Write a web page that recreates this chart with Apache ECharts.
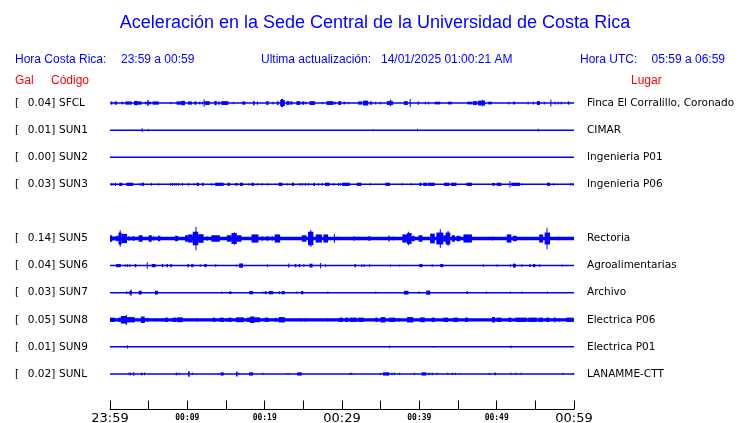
<!DOCTYPE html>
<html>
<head>
<meta charset="utf-8">
<script src="https://cdn.jsdelivr.net/npm/echarts@6/dist/echarts.min.js"></script>
<style>html,body{margin:0;padding:0;background:#fff;}#c{width:740px;height:423px;}</style>
</head>
<body>
<div id="c"></div>
<script>
// ---------- data ----------
const stations = ['SFCL','SUN1','SUN2','SUN3','','SUN5','SUN6','SUN7','SUN8','SUN9','SUNL'];
const maxGal   = ['0.04','0.01','0.00','0.03','','0.14','0.04','0.03','0.05','0.01','0.02'];
const places   = ['Finca El Corralillo, Coronado','CIMAR','Ingenieria P01','Ingenieria P06','','Rectoria','Agroalimentarias','Archivo','Electrica P06','Electrica P01','LANAMME-CTT'];
const tickLabels = ['23:59','','00:09','','00:19','','00:29','','00:39','','00:49','','00:59'];
// background noise level of each trace (fraction of trace spacing)
const noiseLevel = [0.03,0.025,0.025,0.025,null,0.065,0.025,0.025,0.06,0.025,0.025];
// bursts: [start minute, end minute, half amplitude (fraction of trace spacing)]
const sfclBursts = [[0.1,0.3,0.06],[0.6,0.9,0.06],[1.5,1.7,0.05],[2.0,2.8,0.06],[3.1,3.6,0.08],[3.6,4.1,0.06],[4.5,4.7,0.05],[4.8,5.0,0.1],[5.0,5.3,0.05],[5.5,6.3,0.06],[7.8,7.9,0.04],[8.6,9.2,0.06],[9.2,9.7,0.08],[10.1,10.6,0.06],[10.9,11.2,0.06],[11.5,11.7,0.05],[11.9,12.0,0.05],[12.3,12.9,0.07],[12.1,12.25,0.13],[13.5,13.8,0.08],[14.0,14.2,0.06],[14.4,15.3,0.07],[15.9,16.0,0.04],[17.1,17.5,0.06],[18.5,18.7,0.08],[19.0,19.1,0.06],[20.2,20.5,0.07],[21.0,21.1,0.05],[21.6,21.8,0.07],[22.0,22.6,0.11],[22.1,22.4,0.15],[22.8,23.2,0.07],[23.3,23.6,0.06],[24.1,24.6,0.07],[24.8,25.1,0.06],[25.2,25.4,0.05],[25.8,26.5,0.07],[27.4,27.5,0.04],[28.0,28.9,0.07],[29.0,29.2,0.05],[29.5,29.9,0.07],[30.2,30.4,0.05],[30.8,30.9,0.04],[32.1,32.6,0.06],[32.7,33.4,0.09],[33.6,33.9,0.06],[34.3,34.4,0.05],[34.9,35.0,0.05],[35.8,36.6,0.07],[36.2,36.35,0.12],[38.0,38.5,0.07],[38.75,38.85,0.15],[39.8,39.9,0.07],[40.7,40.8,0.05],[41.1,41.2,0.05],[42.0,42.7,0.05],[43.7,44.2,0.05],[46.2,46.8,0.05],[46.9,47.5,0.07],[47.6,48.5,0.09],[48.1,48.25,0.12],[48.9,49.4,0.05],[51.5,51.6,0.05],[52.1,52.4,0.05],[54.0,54.1,0.05],[54.7,54.8,0.05],[55.2,55.6,0.07],[56.1,56.2,0.05],[56.95,57.05,0.13],[57.5,57.6,0.05],[57.9,58.0,0.05],[58.3,58.4,0.05],[59.2,59.4,0.06]];
const sun1Bursts = [[4.1,4.2,0.07],[4.9,5.0,0.04],[34.0,34.1,0.03],[39.7,39.8,0.05],[55.3,55.4,0.05]];
const sun2Bursts = [];
const sun3Bursts = [[0.1,0.2,0.05],[0.35,0.45,0.05],[0.65,0.8,0.06],[1.2,1.6,0.06],[2.1,3.0,0.06],[3.8,3.9,0.05],[4.1,4.4,0.06],[5.3,5.4,0.05],[6.2,6.3,0.04],[7.8,7.9,0.05],[8.0,8.1,0.05],[8.3,8.4,0.05],[8.5,8.6,0.05],[8.8,8.9,0.05],[9.3,9.4,0.05],[10.1,10.2,0.05],[10.8,10.9,0.04],[11.2,11.5,0.06],[11.9,12.1,0.06],[13.1,13.2,0.04],[13.6,14.7,0.06],[15.2,15.5,0.06],[16.2,16.5,0.05],[16.8,17.2,0.06],[17.9,18.0,0.04],[18.3,18.6,0.06],[19.0,19.1,0.04],[19.6,19.7,0.04],[20.3,20.4,0.04],[21.8,22.3,0.06],[22.9,23.0,0.04],[23.5,23.8,0.06],[24.5,24.6,0.05],[24.8,24.9,0.05],[25.2,25.3,0.05],[25.6,25.7,0.05],[26.3,26.5,0.06],[26.9,27.0,0.05],[27.4,27.5,0.05],[27.8,28.4,0.06],[28.9,29.0,0.05],[29.5,29.6,0.05],[29.7,29.8,0.05],[30.0,31.0,0.06],[31.9,32.5,0.06],[33.6,33.7,0.04],[35.6,36.2,0.06],[37.7,37.8,0.04],[38.9,39.0,0.04],[40.0,40.3,0.06],[40.5,41.0,0.06],[41.1,42.0,0.06],[43.2,43.9,0.06],[44.1,44.8,0.06],[46.1,46.8,0.06],[49.4,49.8,0.05],[50.0,50.6,0.06],[51.65,51.75,0.12],[51.9,53.0,0.06],[53.2,53.3,0.04],[56.5,56.9,0.06],[57.3,57.4,0.04],[59.5,59.6,0.05],[59.8,59.9,0.05]];
const sun5Bursts = [[0.0,0.3,0.12],[0.4,0.8,0.07],[0.8,1.1,0.1],[1.1,1.5,0.22],[1.25,1.35,0.3],[1.5,2.2,0.17],[2.4,2.6,0.08],[2.9,3.2,0.08],[3.7,4.2,0.12],[5.0,5.4,0.12],[5.6,5.7,0.08],[6.2,6.5,0.1],[8.4,8.8,0.1],[9.7,10.1,0.12],[10.1,10.7,0.15],[10.7,11.4,0.25],[11.05,11.15,0.43],[11.4,12.1,0.16],[12.5,12.6,0.08],[13.1,14.2,0.12],[15.1,15.7,0.12],[15.7,16.4,0.2],[16.05,16.15,0.23],[16.4,17.0,0.12],[18.3,19.2,0.15],[19.6,19.8,0.08],[20.2,20.5,0.08],[20.9,21.1,0.08],[21.3,22.0,0.15],[24.8,25.4,0.12],[25.6,26.3,0.25],[25.9,26.0,0.31],[26.6,27.4,0.15],[27.6,28.2,0.15],[28.95,29.05,0.17],[29.4,29.5,0.06],[31.5,31.7,0.08],[32.1,32.2,0.06],[33.0,33.1,0.06],[33.4,33.7,0.08],[36.0,36.2,0.1],[36.6,36.7,0.07],[37.8,38.4,0.15],[38.4,39.0,0.2],[38.55,38.65,0.25],[39.0,39.4,0.1],[39.9,40.4,0.12],[41.4,42.0,0.18],[42.2,43.1,0.22],[42.65,42.75,0.34],[43.1,43.5,0.12],[43.4,44.0,0.22],[43.65,43.75,0.28],[44.2,44.6,0.12],[44.8,45.3,0.1],[45.7,46.8,0.15],[49.4,49.5,0.07],[51.3,51.9,0.15],[52.1,52.6,0.1],[55.5,56.0,0.15],[56.2,56.9,0.22],[56.45,56.55,0.4],[58.0,58.1,0.06]];
const sun6Bursts = [[0.8,1.4,0.06],[1.9,2.0,0.05],[2.2,2.3,0.05],[2.5,2.6,0.05],[3.2,3.4,0.06],[4.75,4.85,0.12],[5.4,5.9,0.06],[6.7,6.9,0.06],[7.3,7.5,0.06],[7.8,8.0,0.06],[10.0,10.2,0.06],[10.5,10.8,0.06],[11.6,11.7,0.05],[12.2,12.5,0.06],[13.6,13.7,0.05],[16.3,16.4,0.04],[16.7,17.2,0.08],[20.3,20.4,0.05],[23.05,23.15,0.08],[23.9,24.1,0.06],[24.4,24.6,0.06],[25.0,25.1,0.05],[25.8,26.2,0.07],[27.15,27.25,0.1],[27.8,27.9,0.05],[31.6,31.8,0.06],[32.5,32.6,0.05],[32.8,32.9,0.05],[33.5,33.6,0.05],[36.2,36.3,0.04],[37.4,37.5,0.03],[40.0,40.4,0.06],[41.6,41.7,0.05],[42.7,43.1,0.06],[48.2,48.3,0.05],[50.0,50.1,0.04],[51.7,51.8,0.05],[52.1,52.5,0.06],[52.2,52.3,0.09],[53.2,53.3,0.05],[54.2,54.4,0.05],[54.7,55.0,0.06],[55.5,55.6,0.05],[58.4,58.5,0.03]];
const sun7Bursts = [[2.1,2.2,0.05],[2.5,2.8,0.07],[2.65,2.75,0.12],[3.7,4.1,0.07],[5.8,6.2,0.07],[14.4,14.5,0.04],[15.4,15.7,0.05],[18.0,18.5,0.06],[19.7,19.8,0.04],[20.0,20.3,0.05],[20.5,21.1,0.06],[21.8,22.0,0.05],[22.2,22.6,0.06],[24.1,24.2,0.04],[24.7,25.0,0.06],[28.1,28.2,0.04],[34.3,34.4,0.04],[38.0,38.6,0.07],[39.9,40.0,0.05],[40.9,41.4,0.08],[46.1,46.3,0.05],[48.6,48.7,0.04],[51.7,51.8,0.04],[53.2,53.3,0.04],[56.5,56.6,0.04]];
const sun8Bursts = [[0.0,0.65,0.08],[1.1,1.4,0.08],[1.4,2.2,0.14],[2.05,2.15,0.19],[2.2,3.2,0.1],[4.0,4.5,0.12],[4.7,5.0,0.07],[5.9,6.0,0.07],[6.7,6.8,0.07],[7.1,7.5,0.08],[8.1,8.6,0.08],[8.7,9.4,0.09],[11.2,11.3,0.07],[13.3,13.6,0.08],[14.2,14.7,0.08],[15.0,15.2,0.07],[15.3,15.7,0.08],[16.3,17.3,0.09],[17.7,18.1,0.08],[18.1,18.7,0.12],[18.7,19.4,0.09],[20.0,20.5,0.08],[21.3,21.6,0.07],[21.8,22.6,0.1],[24.6,24.7,0.07],[25.2,25.3,0.07],[28.1,28.2,0.07],[29.5,29.6,0.07],[29.7,30.1,0.08],[30.4,30.8,0.08],[31.0,31.9,0.08],[32.1,32.8,0.08],[34.3,34.6,0.08],[35.0,35.6,0.1],[36.1,36.9,0.08],[37.3,37.4,0.07],[38.4,39.2,0.1],[40.1,40.7,0.09],[41.6,42.0,0.08],[43.1,43.7,0.08],[44.4,45.0,0.08],[45.9,46.3,0.08],[49.4,49.8,0.1],[50.0,50.6,0.08],[51.5,51.9,0.08],[52.4,53.9,0.08],[54.1,55.2,0.08],[55.4,56.0,0.08],[56.4,56.8,0.08],[57.45,57.55,0.1],[58.0,58.1,0.07],[59.0,59.9,0.08]];
const sun9Bursts = [[1.8,1.9,0.03],[2.2,2.3,0.06],[36.1,36.2,0.05],[41.8,41.9,0.03],[51.8,51.9,0.05]];
const sunlBursts = [[2.4,2.5,0.05],[2.6,2.7,0.05],[3.0,3.1,0.07],[4.0,4.2,0.05],[4.4,4.5,0.05],[8.5,8.7,0.05],[8.9,9.0,0.04],[10.1,10.3,0.1],[10.6,10.7,0.04],[13.9,14.0,0.03],[14.3,14.7,0.06],[16.3,16.5,0.09],[16.6,16.7,0.04],[18.0,18.5,0.06],[19.7,19.8,0.04],[22.8,22.9,0.03],[23.1,23.2,0.03],[24.2,24.8,0.06],[31.0,31.1,0.04],[31.2,31.3,0.04],[34.9,35.0,0.04],[35.3,36.1,0.06],[36.4,36.5,0.05],[36.7,36.8,0.05],[37.4,37.5,0.04],[39.3,39.4,0.04],[40.3,40.9,0.06],[41.2,41.3,0.05],[41.6,41.7,0.05],[42.2,42.3,0.04],[43.6,43.7,0.04],[44.2,44.3,0.04],[44.6,44.7,0.04],[45.2,45.3,0.03],[49.0,49.1,0.04],[49.7,49.9,0.05],[51.8,51.9,0.04],[52.4,52.5,0.04],[53.1,53.2,0.04],[58.5,58.6,0.04],[59.9,60.0,0.04]];
const burstsByRow = [sfclBursts,sun1Bursts,sun2Bursts,sun3Bursts,null,sun5Bursts,sun6Bursts,sun7Bursts,sun8Bursts,sun9Bursts,sunlBursts];
const durationMin = 60;

// ---------- build ----------
const traceData = [];
burstsByRow.forEach(function (list, row) {
  if (!list) return;
  traceData.push([0, durationMin, noiseLevel[row], row]);
  list.forEach(function (b) { traceData.push([b[0], b[1], b[2], row]); });
});

const BLUE = '#0000ff';
const LBL = {fontFamily: 'DejaVu Sans', fontSize: 10.5, color: '#000'};
const chart = echarts.init(document.getElementById('c'), null, {renderer: 'canvas'});
chart.setOption({
  animation: false,
  backgroundColor: '#fff',
  grid: {left: 110, right: 166, top: 89.5, bottom: 35.5, containLabel: false, outerBoundsMode: 'none'},
  xAxis: {
    type: 'value', min: 0, max: durationMin, interval: 5,
    position: 'bottom', offset: 22,
    axisLine: {show: true, lineStyle: {color: '#000', width: 1}},
    axisTick: {show: true, inside: true, length: 9, lineStyle: {color: '#000'}},
    splitLine: {show: false},
    axisLabel: {
      margin: 2, showMinLabel: true, showMaxLabel: true, hideOverlap: false,
      formatter: function (v) {
        const i = Math.round(v / 5);
        const t = tickLabels[i] || '';
        if (!t) return '';
        return (i % 6 === 0) ? '{big|' + t + '}' : '{small|' + t + '}';
      },
      rich: {
        big: {fontFamily: 'DejaVu Sans', fontSize: 13, color: '#000', lineHeight: 15},
        small: {fontFamily: 'DejaVu Sans Mono', fontWeight: 'bold', fontSize: 8, color: '#000', lineHeight: 13}
      }
    }
  },
  yAxis: [{
    type: 'category', data: stations, inverse: true,
    axisLine: {show: false}, axisTick: {show: false}, splitLine: {show: false},
    axisLabel: {
      interval: 0, align: 'left', margin: 95, color: '#000',
      formatter: function (v, i) { return v ? '{b|[}{v|' + maxGal[i] + ']}{c|' + v + '}' : ''; },
      rich: {
        b: Object.assign({width: 12}, LBL),
        v: Object.assign({width: 29, align: 'right'}, LBL),
        c: Object.assign({padding: [0, 0, 0, 3]}, LBL)
      }
    }
  }, {
    type: 'category', data: places, inverse: true, position: 'right',
    axisLine: {show: false}, axisTick: {show: false}, splitLine: {show: false},
    axisLabel: Object.assign({interval: 0, align: 'left', margin: 13}, LBL)
  }],
  series: [{
    type: 'custom',
    data: traceData,
    encode: {x: [0, 1], y: 3},
    clip: false,
    renderItem: function (params, api) {
      const a = api.coord([api.value(0), api.value(3)]);
      const b = api.coord([api.value(1), api.value(3)]);
      const band = api.size([0, 1])[1];
      let h = api.value(2) * band;
      if (h < 0.75) h = 0.75;
      const w = Math.max(1, b[0] - a[0]);
      return {type: 'rect', shape: {x: a[0], y: a[1] - h, width: w, height: 2 * h}, style: {fill: BLUE}};
    }
  }],
  graphic: [
    {type: 'text', x: 375, y: 23, style: {text: 'Aceleración en la Sede Central de la Universidad de Costa Rica', fill: BLUE, font: '18px "Liberation Sans", Arial, sans-serif', textAlign: 'center', textVerticalAlign: 'middle'}},
    {type: 'text', x: 15, y: 60, style: {text: 'Hora Costa Rica:', fill: BLUE, font: '12px "Liberation Sans", Arial, sans-serif', textVerticalAlign: 'middle'}},
    {type: 'text', x: 121, y: 60, style: {text: '23:59 a 00:59', fill: BLUE, font: '12px "Liberation Sans", Arial, sans-serif', textVerticalAlign: 'middle'}},
    {type: 'text', x: 261, y: 60, style: {text: 'Ultima actualización:', fill: BLUE, font: '12px "Liberation Sans", Arial, sans-serif', textVerticalAlign: 'middle'}},
    {type: 'text', x: 381, y: 60, style: {text: '14/01/2025 01:00:21 AM', fill: BLUE, font: '12px "Liberation Sans", Arial, sans-serif', textVerticalAlign: 'middle'}},
    {type: 'text', x: 580, y: 60, style: {text: 'Hora UTC:', fill: BLUE, font: '12px "Liberation Sans", Arial, sans-serif', textVerticalAlign: 'middle'}},
    {type: 'text', x: 725, y: 60, style: {text: '05:59 a 06:59', fill: BLUE, font: '12px "Liberation Sans", Arial, sans-serif', textAlign: 'right', textVerticalAlign: 'middle'}},
    {type: 'text', x: 15, y: 81, style: {text: 'Gal', fill: '#ff0000', font: '12px "Liberation Sans", Arial, sans-serif', textVerticalAlign: 'middle'}},
    {type: 'text', x: 51, y: 81, style: {text: 'Código', fill: '#ff0000', font: '12px "Liberation Sans", Arial, sans-serif', textVerticalAlign: 'middle'}},
    {type: 'text', x: 631, y: 81, style: {text: 'Lugar', fill: '#ff0000', font: '12px "Liberation Sans", Arial, sans-serif', textVerticalAlign: 'middle'}}
  ]
});
</script>
</body>
</html>
